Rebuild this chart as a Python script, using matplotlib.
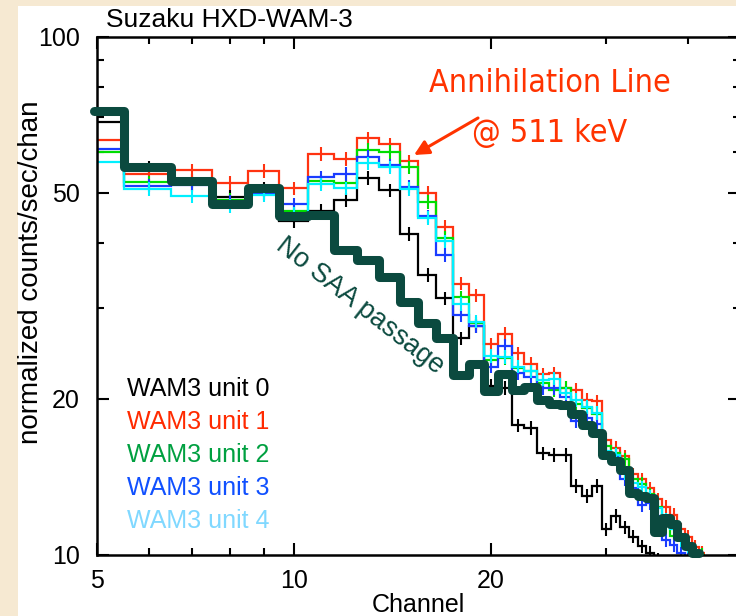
import numpy as np
import matplotlib
matplotlib.use('Agg')
import matplotlib.pyplot as plt
from matplotlib.ticker import FixedLocator, FixedFormatter, NullFormatter
from matplotlib.patches import Rectangle

# channel numbers (bin centres, bins are 1 channel wide)
channels = np.arange(5, 43)

# normalized counts/sec/chan
unit0 = [68.6, 56.0, 52.7, 49.1, 51.0, 44.0, 46.2, 48.4, 53.4, 50.5,
         41.6, 34.7, 31.3, 26.2, 27.7, 21.2, 21.0, 17.8, 17.6, 15.7,
         15.6, 15.6, 13.6, 13.0, 13.6, 11.2, 11.9, 11.3, 10.85, 10.4,
         10.1, 9.8]
unit1 = [63.2, 54.4, 55.2, 52.2, 55.1, 51.0, 59.4, 58.1, 63.7, 62.0,
         57.5, 50.0, 43.0, 33.4, 31.7, 25.5, 26.7, 24.5, 23.4, 22.3,
         22.4, 21.0, 20.8, 19.9, 19.8, 16.7, 16.1, 15.5, 14.3, 14.0,
         13.45, 12.8, 12.4, 11.95, 11.2, 10.85, 10.37, 10.1]
unit2 = [60.0, 52.4, 52.0, 48.5, 50.5, 46.0, 52.6, 52.2, 60.5, 59.9,
         56.0, 48.0, 40.9, 31.4, 28.0, 23.8, 24.0, 22.9, 22.6, 21.5,
         20.8, 21.0, 19.6, 19.2, 18.7, 16.2, 15.7, 15.3, 14.0, 13.7,
         13.1, 12.4, 11.35, 10.9, 10.9, 10.5, 10.2, 10.0]
unit3 = [60.8, 51.6, 51.8, 48.0, 50.0, 47.5, 53.5, 54.4, 58.7, 56.5,
         51.4, 45.0, 37.9, 29.0, 27.6, 23.1, 25.3, 22.4, 22.1, 21.0,
         21.0, 20.2, 18.1, 18.4, 17.9, 15.7, 15.5, 14.0, 13.45, 12.5,
         12.6, 11.9, 10.7, 10.45, 10.1, 9.9]
unit4 = [57.3, 50.8, 49.2, 47.2, 49.5, 45.5, 51.9, 51.0, 57.0, 56.0,
         50.9, 44.7, 40.3, 30.5, 28.2, 24.2, 24.1, 23.1, 22.6, 21.8,
         21.9, 20.5, 19.9, 19.3, 18.8, 15.9, 15.6, 14.4, 13.8, 13.5,
         12.96, 12.3, 11.7, 11.2, 10.7, 10.4, 10.0]
no_saa = [71.8, 56.0, 52.7, 47.5, 51.0, 45.0, 45.2, 38.8, 37.1, 34.4,
          30.8, 28.0, 26.2, 22.2, 23.4, 20.7, 22.3, 20.8, 21.1, 19.9,
          19.6, 19.5, 18.7, 17.8, 17.2, 15.6, 15.2, 14.6, 13.2, 13.0,
          12.9, 11.1, 11.8, 11.5, 10.85, 10.4, 10.1]

unit_labels = ['WAM3 unit 0', 'WAM3 unit 1', 'WAM3 unit 2', 'WAM3 unit 3', 'WAM3 unit 4']
line_colors = ['black', '#ff3311', '#00dd00', '#1a3cff', '#00f0ff']
text_colors = ['black', '#ff2a00', '#00a040', '#1050ff', '#80d8ff']

plt.rcParams['font.family'] = ['Liberation Sans', 'DejaVu Sans']

fig = plt.figure(figsize=(7.36, 6.16), dpi=100, facecolor='#f6e9d2')
# white slide panel behind everything
fig.patches.append(Rectangle((18 / 736, 0), 1, 1 - 6 / 616, transform=fig.transFigure,
                             facecolor='white', edgecolor='none', zorder=-10))

ax = fig.add_axes([96.7 / 736, 61 / 616, (740 - 96.7) / 736, (555 - 36.7) / 616])
ax.set_facecolor('none')
ax.set_zorder(5)

for vals, col in zip([unit0, unit1, unit2, unit3, unit4], line_colors):
    ch = channels[:len(vals)]
    edges = np.append(ch - 0.5, ch[-1] + 0.5)
    ax.stairs(vals, edges, baseline=None, color=col, linewidth=1.6, zorder=2)
    v = np.array(vals)
    ax.errorbar(ch, v, yerr=0.03 * v, fmt='none', ecolor=col, elinewidth=1.5, zorder=2)

ch = channels[:len(no_saa)]
edges = np.append(ch - 0.5, ch[-1] + 0.5)
edges[0] = 4.95
st = ax.stairs(no_saa, edges, baseline=None, color='#0b4a3f', linewidth=6.5,
               zorder=3, clip_on=False)
st.set_joinstyle('round')
st.set_capstyle('round')

ax.set_xscale('log')
ax.set_yscale('log')
ax.set_xlim(5, 48)
ax.set_ylim(10, 100)

ax.xaxis.set_major_locator(FixedLocator([5, 10, 20]))
ax.xaxis.set_major_formatter(FixedFormatter(['5', '10', '20']))
ax.xaxis.set_minor_locator(FixedLocator([6, 7, 8, 9, 30, 40]))
ax.xaxis.set_minor_formatter(NullFormatter())
ax.yaxis.set_major_locator(FixedLocator([10, 20, 50, 100]))
ax.yaxis.set_major_formatter(FixedFormatter(['10', '20', '50', '100']))
ax.yaxis.set_minor_locator(FixedLocator([30, 40, 60, 70, 80, 90]))
ax.yaxis.set_minor_formatter(NullFormatter())

ax.tick_params(which='both', direction='in', top=True, right=True, width=1.5, labelsize=18)
ax.tick_params(which='major', length=8.5)
ax.tick_params(which='minor', length=5)
ax.tick_params(axis='x', pad=10)
ax.tick_params(axis='y', pad=12)
for s in ax.spines.values():
    s.set_linewidth(1.8)

ax.set_xlabel('Channel', fontsize=18, labelpad=0)
fig.text(31 / 736, 1 - 272 / 616, 'normalized counts/sec/chan', rotation=90,
         ha='center', va='center', fontsize=20)
fig.text(106 / 736, 1 - 20 / 616, 'Suzaku HXD-WAM-3', ha='left', va='center', fontsize=19)

# legend as coloured text
for i, (lab, col) in enumerate(zip(unit_labels, text_colors)):
    fig.text(127 / 736, 1 - (389 + 33 * i) / 616, lab, color=col, fontsize=18,
             ha='left', va='center', zorder=6)

fig.text(360 / 736, 1 - 306 / 616, 'No SAA passage', rotation=-38, color='#0b4a3f',
         fontsize=19.5, ha='center', va='center', zorder=6)

fig.text(550 / 736, 1 - 84 / 616, 'Annihilation Line', color='#ff3300', fontsize=23,
         family='DejaVu Sans', fontstretch='condensed', ha='center', va='center', zorder=6)
fig.text(550 / 736, 1 - 134 / 616, '@ 511 keV', color='#ff3300', fontsize=23,
         family='DejaVu Sans', fontstretch='condensed', ha='center', va='center', zorder=6)
ax.annotate('', xy=(414 / 736, 1 - 155 / 616), xycoords='figure fraction',
            xytext=(478 / 736, 1 - 118 / 616), textcoords='figure fraction',
            arrowprops=dict(arrowstyle='-|>', color='#ff3300', lw=2.2,
                            mutation_scale=22, shrinkA=0, shrinkB=0))

fig.savefig('out.png', dpi=100, facecolor=fig.get_facecolor())
